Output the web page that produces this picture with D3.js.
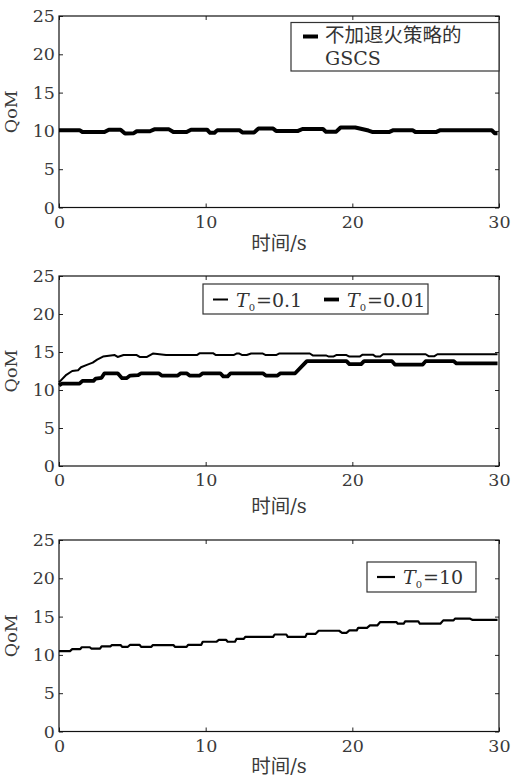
<html>
<style>
    body { margin: 0; background: #fff; }
    svg { display: block; }
    .tick text { font-family: 'DejaVu Serif', serif; font-size: 17.5px; fill: #3a3a3a; }
    .tick line { stroke: #222; }
    .axis-label { font-family: 'DejaVu Serif', 'Noto Sans CJK SC', serif; font-size: 19.5px; fill: #3a3a3a; }
    .legend text { font-family: 'DejaVu Serif', 'Noto Sans CJK SC', serif; font-size: 19px; fill: #333; }
</style>
<body>
<svg width="524" height="778"></svg>

<script src="https://d3js.org/d3.v7.min.js"></script>
<script>
    let width = 524

    // tick values
    let xTicks = [0, 10, 20, 30]
    let yTicks = [0, 5, 10, 15, 20, 25]

    // panel 1: GSCS without annealing
    let gscsT = [0, 1.4, 1.6, 3.1, 3.4, 4.2, 4.5, 5.1, 5.3, 6.2, 6.5, 7.5, 7.8, 8.7, 9.0, 10.1, 10.3, 10.6, 10.8, 12.3, 12.5, 13.3, 13.6, 14.6, 14.8, 16.3, 16.6, 18.0, 18.2, 18.9, 19.2, 20.2, 21.1, 21.4, 22.5, 22.8, 24.1, 24.3, 25.7, 26.0, 29.5, 29.7, 29.9]
    let gscsV = [10.1, 10.1, 9.85, 9.85, 10.15, 10.15, 9.65, 9.7, 9.95, 9.95, 10.2, 10.2, 9.85, 9.85, 10.15, 10.15, 9.75, 9.75, 10.1, 10.1, 9.8, 9.8, 10.3, 10.3, 10.0, 10.0, 10.25, 10.25, 9.9, 9.9, 10.45, 10.45, 10.05, 9.85, 9.85, 10.1, 10.1, 9.85, 9.85, 10.1, 10.1, 9.7, 9.7]

    // panel 2: T0 = 0.1
    let t01T = [0, 0.5, 0.9, 1.3, 1.5, 1.9, 2.3, 2.6, 3.0, 3.8, 4.0, 4.4, 5.3, 5.5, 6.0, 6.4, 7.3, 9.4, 9.6, 10.5, 10.7, 11.9, 12.1, 12.3, 12.5, 12.8, 13.1, 13.9, 14.1, 14.8, 15.0, 17.1, 17.3, 18.2, 18.4, 18.7, 18.9, 19.6, 19.8, 20.5, 20.7, 21.4, 21.6, 21.9, 22.1, 25.0, 25.2, 25.6, 25.8, 29.9]
    let t01V = [11.0, 12.0, 12.5, 12.6, 13.0, 13.3, 13.6, 14.0, 14.4, 14.6, 14.35, 14.6, 14.6, 14.35, 14.35, 14.8, 14.6, 14.6, 14.85, 14.85, 14.6, 14.6, 14.8, 14.8, 14.6, 14.6, 14.8, 14.8, 14.6, 14.6, 14.8, 14.8, 14.55, 14.55, 14.4, 14.4, 14.6, 14.6, 14.4, 14.4, 14.65, 14.65, 14.4, 14.4, 14.7, 14.7, 14.45, 14.45, 14.7, 14.7]

    // panel 2: T0 = 0.01
    let t001T = [0, 0.2, 1.4, 1.6, 2.35, 2.5, 2.9, 3.1, 4.0, 4.3, 4.6, 4.85, 5.4, 5.6, 6.8, 7.0, 8.1, 8.3, 8.7, 8.9, 9.6, 9.8, 11.0, 11.2, 11.5, 11.7, 13.9, 14.1, 14.9, 15.1, 16.1, 16.7, 16.9, 19.6, 19.8, 20.6, 20.8, 22.7, 22.9, 24.8, 25.0, 26.9, 27.1, 29.9]
    let t001V = [10.6, 10.85, 10.85, 11.2, 11.2, 11.5, 11.6, 12.2, 12.2, 11.55, 11.55, 11.9, 11.95, 12.2, 12.2, 11.9, 11.9, 12.2, 12.2, 11.9, 11.9, 12.2, 12.2, 11.8, 11.8, 12.2, 12.2, 11.9, 11.9, 12.2, 12.2, 13.4, 13.8, 13.8, 13.4, 13.4, 13.8, 13.8, 13.35, 13.35, 13.8, 13.8, 13.5, 13.5]

    // panel 3: T0 = 10
    let t10T = [0, 0.75, 0.9, 1.45, 1.55, 2.1, 2.2, 2.8, 2.9, 3.5, 3.6, 4.2, 4.3, 4.7, 4.85, 5.5, 5.6, 6.3, 6.4, 7.8, 7.9, 8.7, 8.8, 9.7, 9.8, 10.75, 10.9, 11.4, 11.5, 12.0, 12.1, 12.6, 12.7, 14.6, 14.7, 15.5, 15.6, 16.8, 16.9, 17.5, 17.7, 19.1, 19.3, 19.6, 19.8, 20.3, 20.4, 21.0, 21.2, 21.7, 21.9, 23.0, 23.1, 23.5, 23.6, 24.5, 24.6, 26.0, 26.2, 26.9, 27.0, 28.0, 28.2, 29.9]
    let t10V = [10.5, 10.5, 10.75, 10.75, 11.0, 11.0, 10.83, 10.83, 11.1, 11.1, 11.28, 11.28, 11.06, 11.06, 11.32, 11.32, 11.06, 11.06, 11.28, 11.28, 11.06, 11.06, 11.32, 11.32, 11.72, 11.72, 11.95, 11.95, 11.72, 11.72, 12.08, 12.08, 12.35, 12.35, 12.66, 12.66, 12.35, 12.35, 12.75, 12.75, 13.15, 13.15, 12.88, 12.88, 13.2, 13.2, 13.54, 13.54, 13.85, 13.85, 14.29, 14.29, 14.07, 14.07, 14.38, 14.38, 14.07, 14.07, 14.51, 14.51, 14.74, 14.74, 14.56, 14.56]

    let svg = d3.select("svg")

    let x = d3.scaleLinear()
        .domain([0, 30])
        .range([59, 499])

    let panels = [
        {
            top: 16, bottom: 207.5, xlabelY: 250,
            series: [{t: gscsT, v: gscsV, w: 4}],
            legend: {x: 291, y: 22.5, w: 208, h: 48.5}
        },
        {
            top: 276, bottom: 466, xlabelY: 513,
            series: [{t: t01T, v: t01V, w: 2}, {t: t001T, v: t001V, w: 3.8}],
            legend: {x: 203, y: 284, w: 225, h: 30}
        },
        {
            top: 540, bottom: 731.5, xlabelY: 773,
            series: [{t: t10T, v: t10V, w: 2.2}],
            legend: {x: 367, y: 562, w: 109, h: 30}
        }
    ]

    panels.forEach((p, i) => {
        let y = d3.scaleLinear()
            .domain([0, 25])
            .range([p.bottom, p.top])

        let g = svg.append("g")

        g.append("g")
            .attr("transform", `translate(0, ${p.bottom})`)
            .call(d3.axisBottom(x).tickValues(xTicks).tickSize(-4).tickSizeOuter(0).tickPadding(8))
            .call(a => a.select(".domain").remove())
        g.append("g")
            .attr("transform", `translate(0, ${p.top})`)
            .call(d3.axisTop(x).tickValues(xTicks).tickSize(-4).tickSizeOuter(0).tickFormat(""))
            .call(a => a.select(".domain").remove())
        g.append("g")
            .attr("transform", `translate(${x(0)}, 0)`)
            .call(d3.axisLeft(y).tickValues(yTicks).tickSize(-4).tickSizeOuter(0).tickPadding(4))
            .call(a => a.select(".domain").remove())
        g.append("g")
            .attr("transform", `translate(${x(30)}, 0)`)
            .call(d3.axisRight(y).tickValues(yTicks).tickSize(-4).tickSizeOuter(0).tickFormat(""))
            .call(a => a.select(".domain").remove())

        g.append("rect")
            .attr("x", x(0))
            .attr("y", p.top)
            .attr("width", x(30) - x(0))
            .attr("height", p.bottom - p.top)
            .attr("fill", "none")
            .attr("stroke", "#111")
            .attr("stroke-width", 1.2)

        p.series.forEach(s => {
            let pts = s.t.map((t, j) => [t, s.v[j]])
            g.append("path")
                .datum(pts)
                .attr("fill", "none")
                .attr("stroke", "#000")
                .attr("stroke-width", s.w)
                .attr("stroke-linejoin", "round")
                .attr("d", d3.line().x(d => x(d[0])).y(d => y(d[1])))
        })

        // axis labels
        g.append("text")
            .attr("class", "axis-label")
            .attr("x", (x(0) + x(30)) / 2)
            .attr("y", p.xlabelY)
            .attr("text-anchor", "middle")
            .text("时间/s")

        g.append("text")
            .attr("class", "axis-label")
            .attr("transform", `translate(17, ${(p.top + p.bottom) / 2}) rotate(-90)`)
            .attr("text-anchor", "middle")
            .style("font-size", "17.5px")
            .text("QoM")

        // legend
        let lg = g.append("g").attr("class", "legend")
        lg.append("rect")
            .attr("x", p.legend.x)
            .attr("y", p.legend.y)
            .attr("width", p.legend.w)
            .attr("height", p.legend.h)
            .attr("fill", "#fff")
            .attr("stroke", "#333")
            .attr("stroke-width", 1.2)

        if (i == 0) {
            lg.append("line")
                .attr("x1", 303).attr("x2", 318)
                .attr("y1", 36.5).attr("y2", 36.5)
                .attr("stroke", "#000").attr("stroke-width", 4)
            lg.append("text").attr("x", 325).attr("y", 42).style("font-size", "19.5px").text("不加退火策略的")
            lg.append("text").attr("x", 325).attr("y", 64.5).text("GSCS")
        } else {
            let items = i == 1
                ? [{x: 213, w: 2, label: "=0.1"}, {x: 324, w: 3.8, label: "=0.01"}]
                : [{x: 377, w: 2.2, label: "=10", len: 18}]
            let cy = i == 1 ? 299.5 : 577
            items.forEach(it => {
                let len = it.len || 15
                lg.append("line")
                    .attr("x1", it.x).attr("x2", it.x + len)
                    .attr("y1", cy).attr("y2", cy)
                    .attr("stroke", "#000").attr("stroke-width", it.w)
                let t = lg.append("text")
                    .attr("x", it.x + len + 8)
                    .attr("y", cy + 7)
                t.append("tspan").style("font-style", "italic").text("T")
                t.append("tspan").attr("dy", 4).style("font-size", "10px").text("0")
                t.append("tspan").attr("dy", -4).attr("dx", 1).text(it.label)
            })
        }
    })
</script>
</body>
</html>
